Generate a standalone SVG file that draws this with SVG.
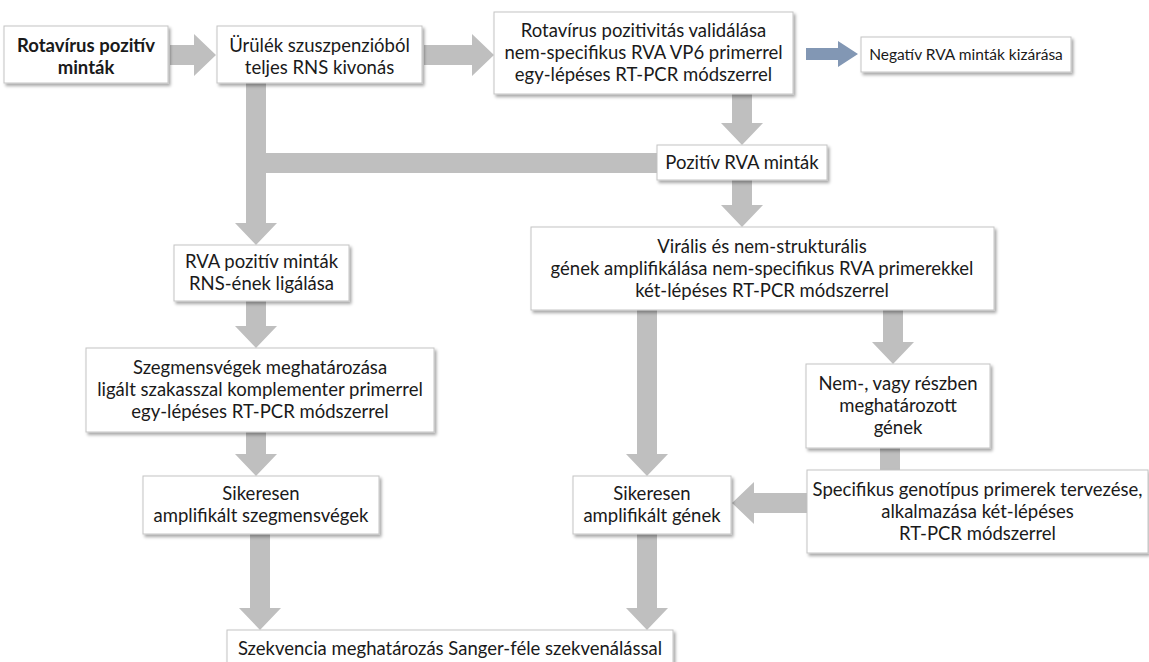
<svg xmlns="http://www.w3.org/2000/svg" width="1149" height="662" viewBox="0 0 1149 662">
<defs>
<filter id="sh" x="-10%" y="-10%" width="130%" height="140%">
<feDropShadow dx="2" dy="2.5" stdDeviation="1.5" flood-color="#000" flood-opacity="0.35"/>
</filter>
<style>
.box{fill:#fff;stroke:#c4c4c4;stroke-width:1;filter:url(#sh)}
.t{font-family:Lato,"Liberation Sans",sans-serif;font-size:18.5px;fill:#1a1a1a;text-anchor:middle}
.b{font-weight:bold}
.s{font-size:15.5px}
.arr{fill:#bfbfbf}
.blue{fill:#8297b4}
</style>
</defs>
<rect width="1149" height="662" fill="#fff"/>
<g id="connectors">
<polygon class="arr" points="170,45 194,45 194,34 216,55 194,76 194,65 170,65"/>
<polygon class="arr" points="424,45 472,45 472,34 494,55 472,76 472,65 424,65"/>
<polygon class="blue" points="806,48 838,48 838,41 858,54 838,67 838,60 806,60"/>
<rect class="arr" x="256" y="153" width="401" height="20"/>
<polygon class="arr" points="246,83 266,83 266,223 277,223 256,245 235,223 246,223"/>
<polygon class="arr" points="732,94 752,94 752,123 763,123 742,145 721,123 732,123"/>
<polygon class="arr" points="732,180 752,180 752,205 763,205 742,227 721,205 732,205"/>
<polygon class="arr" points="246,301 266,301 266,326 277,326 256,348 235,326 246,326"/>
<polygon class="arr" points="246,432 266,432 266,454 277,454 256,476 235,454 246,454"/>
<polygon class="arr" points="250,534 270,534 270,608 281,608 260,630 239,608 250,608"/>
<polygon class="arr" points="637,310 657,310 657,454 668,454 647,476 626,454 637,454"/>
<polygon class="arr" points="883,310 903,310 903,342 914,342 893,364 872,342 883,342"/>
<rect class="arr" x="880" y="448" width="20" height="22"/>
<polygon class="arr" points="807,493 754,493 754,482 732,503 754,524 754,513 807,513"/>
<polygon class="arr" points="637,534 657,534 657,608 668,608 647,630 626,608 637,608"/>
</g>
<g id="n1"><rect class="box" x="4" y="26" width="164" height="57"/>
<text class="t b" x="86" y="52">Rotavírus pozitív</text><text class="t b" x="86" y="74">minták</text></g>
<g id="n2"><rect class="box" x="217" y="26" width="205" height="57"/>
<text class="t" x="319.5" y="52">Ürülék szuszpenzióból</text><text class="t" x="319.5" y="74">teljes RNS kivonás</text></g>
<g id="n3"><rect class="box" x="494" y="12" width="299" height="82"/>
<text class="t" x="643.5" y="37">Rotavírus pozitivitás validálása</text><text class="t" x="643.5" y="59">nem-specifikus RVA VP6 primerrel</text><text class="t" x="643.5" y="81">egy-lépéses RT-PCR módszerrel</text></g>
<g id="n4"><rect class="box" x="861" y="37" width="210" height="35"/>
<text class="t s" x="966" y="60">Negatív RVA minták kizárása</text></g>
<g id="n5"><rect class="box" x="657" y="145" width="170" height="35"/>
<text class="t" x="742" y="169">Pozitív RVA minták</text></g>
<g id="n6"><rect class="box" x="531" y="227" width="463" height="83"/>
<text class="t" x="762" y="253">Virális és nem-strukturális</text><text class="t" x="762" y="275">gének amplifikálása nem-specifikus RVA primerekkel</text><text class="t" x="762" y="297">két-lépéses RT-PCR módszerrel</text></g>
<g id="n7"><rect class="box" x="174" y="245" width="175" height="56"/>
<text class="t" x="261.5" y="268">RVA pozitív minták</text><text class="t" x="261.5" y="290">RNS-ének ligálása</text></g>
<g id="n8"><rect class="box" x="86" y="348" width="348" height="84"/>
<text class="t" x="260" y="374">Szegmensvégek meghatározása</text><text class="t" x="260" y="396">ligált szakasszal komplementer primerrel</text><text class="t" x="260" y="418">egy-lépéses RT-PCR módszerrel</text></g>
<g id="n9"><rect class="box" x="143" y="476" width="236" height="58"/>
<text class="t" x="261" y="500">Sikeresen</text><text class="t" x="261" y="522">amplifikált szegmensvégek</text></g>
<g id="n10"><rect class="box" x="806" y="364" width="184" height="84"/>
<text class="t" x="898" y="390">Nem-, vagy részben</text><text class="t" x="898" y="412">meghatározott</text><text class="t" x="898" y="434">gének</text></g>
<g id="n11"><rect class="box" x="807" y="470" width="341" height="83"/>
<text class="t" x="977.5" y="496">Specifikus genotípus primerek tervezése,</text><text class="t" x="977.5" y="518">alkalmazása két-lépéses</text><text class="t" x="977.5" y="540">RT-PCR módszerrel</text></g>
<g id="n12"><rect class="box" x="573" y="476" width="158" height="58"/>
<text class="t" x="652" y="500">Sikeresen</text><text class="t" x="652" y="522">amplifikált gének</text></g>
<g id="n13"><rect class="box" x="227" y="630" width="446" height="45"/>
<text class="t" x="450" y="655">Szekvencia meghatározás Sanger-féle szekvenálással</text></g>
</svg>
